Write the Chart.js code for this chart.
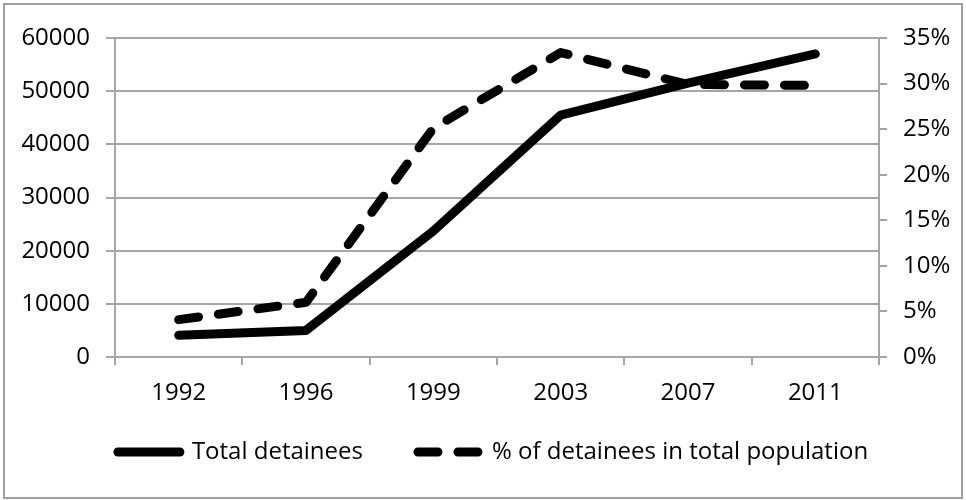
<!DOCTYPE html>
<html>
<head>
<meta charset="utf-8">
<script src="https://cdn.jsdelivr.net/npm/chart.js@4/dist/chart.umd.min.js"></script>
<style>
    html, body { margin: 0; padding: 0; background: #fff; }
    #wrap { position: relative; width: 966px; height: 500px; }
</style>
</head>
<body>
<div id="wrap"><canvas id="detaineesChart" width="966" height="500"></canvas></div>
<script>
// Chart data
const years = ['1992', '1996', '1999', '2003', '2007', '2011'];
const totalDetainees = [4100, 5000, 23700, 45500, 51500, 57000];
const pctDetainees = [4.1, 6.0, 25.1, 33.4, 29.9, 29.8];

const gridColor = '#a6a6a6';
const fontFamily = "'Open Sans', 'Liberation Sans', sans-serif";

// Outer frame of the chart
const framePlugin = {
    id: 'frame',
    beforeDraw(chart) {
        const ctx = chart.ctx;
        ctx.save();
        ctx.fillStyle = '#fff';
        ctx.fillRect(0, 0, chart.width, chart.height);
        ctx.strokeStyle = '#a0a0a0';
        ctx.lineWidth = 2;
        ctx.strokeRect(4, 4, 958, 494);
        ctx.restore();
    }
};

// Move the legend row up and a bit right, like the original
const legendShift = {
    id: 'legendShift',
    afterLayout(chart) {
        const lg = chart.legend;
        if (!lg) return;
        const dy = 385 - lg.top;
        lg.top += dy;
        lg.bottom += dy;
        lg.left += 10;
        lg.right += 10;
    }
};

Chart.defaults.font.family = fontFamily;
Chart.defaults.font.size = 24;
Chart.defaults.color = '#000';

new Chart(document.getElementById('detaineesChart'), {
    type: 'line',
    data: {
        labels: years,
        datasets: [{
            label: 'Total detainees',
            data: totalDetainees,
            yAxisID: 'y',
            borderColor: '#000',
            backgroundColor: '#000',
            borderWidth: 9,
            borderCapStyle: 'round',
            borderJoinStyle: 'round',
            pointRadius: 0,
            tension: 0
        }, {
            label: '% of detainees in total population',
            data: pctDetainees,
            yAxisID: 'y1',
            borderColor: '#000',
            backgroundColor: '#000',
            borderWidth: 9,
            borderDash: [20, 20],
            borderCapStyle: 'round',
            borderJoinStyle: 'round',
            pointRadius: 0,
            tension: 0
        }]
    },
    options: {
        responsive: false,
        animation: false,
        layout: { padding: { top: 38, left: 0, right: 0, bottom: 0 } },
        plugins: {
            legend: {
                position: 'bottom',
                labels: {
                    usePointStyle: true,
                    pointStyle: 'line',
                    pointStyleWidth: 62,
                    boxHeight: 24,
                    padding: 55,
                    font: { size: 24 },
                    generateLabels(chart) {
                        const items = Chart.defaults.plugins.legend.labels.generateLabels(chart);
                        return items.map(item => {
                            const ds = chart.data.datasets[item.datasetIndex];
                            item.lineDash = ds.borderDash || [];
                            item.lineWidth = ds.borderWidth;
                            item.lineCap = 'round';
                            item.pointStyle = 'line';
                            item.strokeStyle = '#000';
                            return item;
                        });
                    }
                }
            },
            tooltip: { enabled: false }
        },
        scales: {
            x: {
                offset: true,
                grid: {
                    offset: true,
                    drawOnChartArea: false,
                    drawTicks: true,
                    tickLength: 8,
                    color: gridColor,
                    lineWidth: 2
                },
                border: { display: true, color: gridColor, width: 2 },
                ticks: { padding: 14, maxRotation: 0 },
                afterFit(scale) { scale.height = 54; }
            },
            y: {
                position: 'left',
                min: 0,
                max: 60000,
                grid: {
                    color: gridColor,
                    lineWidth: 2,
                    tickLength: 9
                },
                border: { display: true, color: gridColor, width: 2 },
                ticks: {
                    stepSize: 10000,
                    padding: 16,
                    callback: v => String(v)
                },
                afterFit(scale) { scale.width = 115; }
            },
            y1: {
                position: 'right',
                min: 0,
                max: 35,
                grid: {
                    drawOnChartArea: false,
                    color: gridColor,
                    lineWidth: 2,
                    tickLength: 8
                },
                border: { display: true, color: gridColor, width: 2 },
                ticks: {
                    stepSize: 5,
                    padding: 16,
                    callback: v => v + '%'
                },
                afterFit(scale) { scale.width = 87; }
            }
        }
    },
    plugins: [framePlugin, legendShift]
});
</script>
</body>
</html>
